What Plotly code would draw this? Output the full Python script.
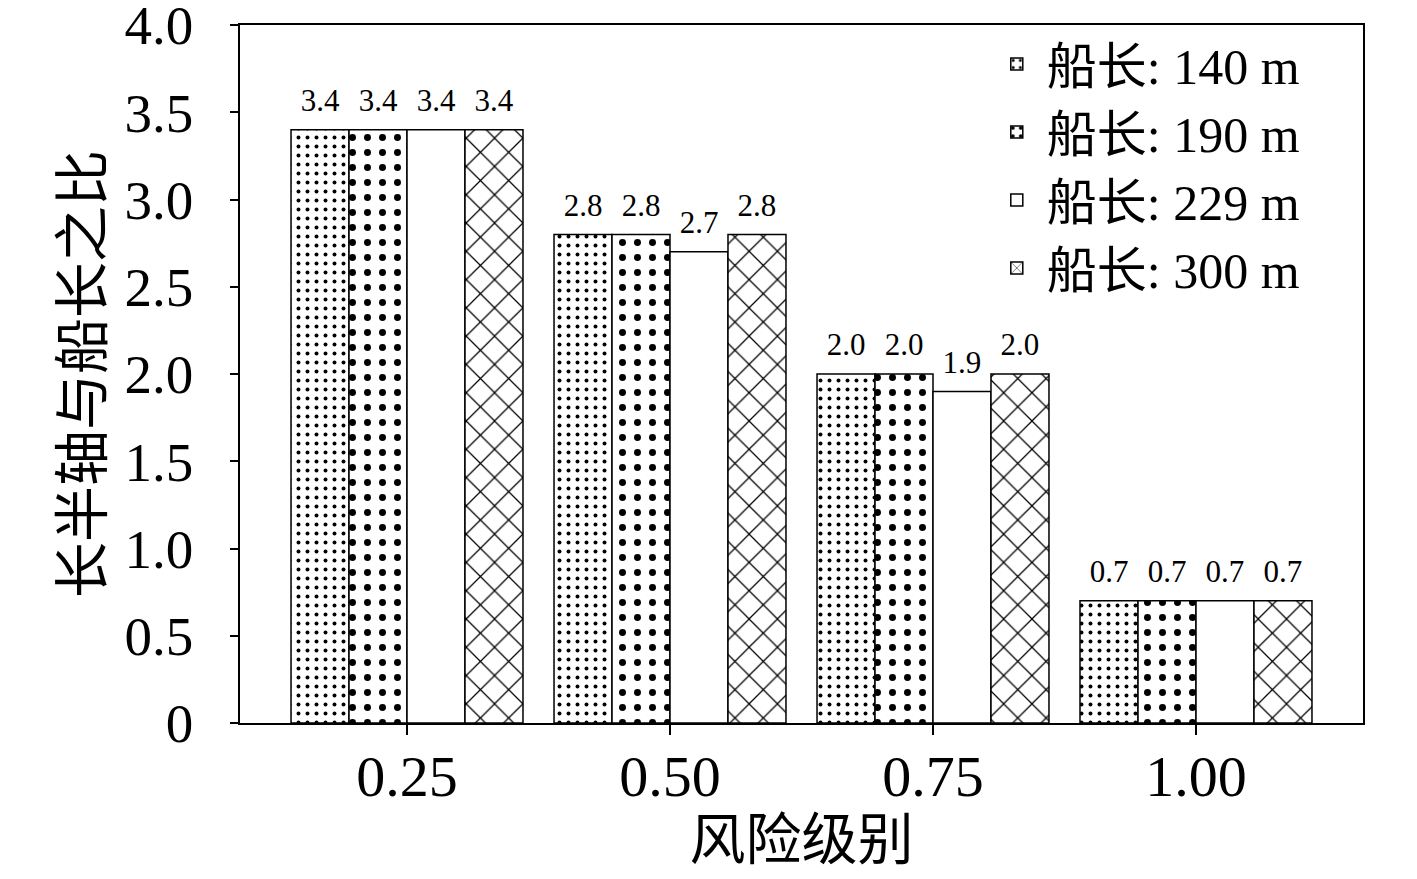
import plotly.graph_objects as go

# 风险级别 (x categories)
risk_levels = ["0.25", "0.50", "0.75", "1.00"]

# 长半轴与船长之比 for each ship length
ratio_140 = [3.4, 2.8, 2.0, 0.7]
ratio_190 = [3.4, 2.8, 2.0, 0.7]
ratio_229 = [3.4, 2.7, 1.9, 0.7]
ratio_300 = [3.4, 2.8, 2.0, 0.7]

series_names = ["船长: 140 m", "船长: 190 m", "船长: 229 m", "船长: 300 m"]

y_ticks = [0, 0.5, 1.0, 1.5, 2.0, 2.5, 3.0, 3.5, 4.0]
y_tick_text = ["0", "0.5", "1.0", "1.5", "2.0", "2.5", "3.0", "3.5", "4.0"]

FONT = "Liberation Serif, Noto Sans CJK SC"

# pattern per series: shape, size, solidity
patterns = [
    dict(shape=".", size=9, solidity=0.15),
    dict(shape=".", size=15, solidity=0.17),
    dict(shape="", size=8, solidity=0.2),
    dict(shape="x", size=20, solidity=0.12),
]

all_vals = [ratio_140, ratio_190, ratio_229, ratio_300]

fig = go.Figure()
for name, vals, pat in zip(series_names, all_vals, patterns):
    fig.add_trace(go.Bar(
        x=risk_levels,
        y=vals,
        name=name,
        marker=dict(
            color="white",
            line=dict(color="black", width=1.5),
            pattern=dict(shape=pat["shape"], size=pat["size"], solidity=pat["solidity"],
                         fgcolor="black", bgcolor="white", fgopacity=1,
                         fillmode="overlay"),
        ),
    ))

# value labels, grouped like the bars, lifted a little off the bar tops
for name, vals in zip(series_names, all_vals):
    fig.add_trace(go.Scatter(
        x=risk_levels,
        y=vals,
        mode="markers+text",
        text=[f"{v:.1f}" for v in vals],
        textposition="top center",
        textfont=dict(family=FONT, size=31, color="black"),
        marker=dict(size=16, opacity=0),
        showlegend=False,
        hoverinfo="skip",
        cliponaxis=False,
    ))

# page body keeps an 8px margin, so the figure is sized to fit inside the window
fig.update_layout(
    width=1401,
    height=863,
    margin=dict(l=232, r=46, t=17, b=148),
    paper_bgcolor="white",
    plot_bgcolor="white",
    barmode="group",
    bargap=0.118,
    bargroupgap=0,
    scattermode="group",
    scattergap=0.118,
    font=dict(family=FONT, size=50, color="black"),
    showlegend=True,
    legend=dict(
        x=0.665, y=1.0, xanchor="left", yanchor="top",
        font=dict(family=FONT, size=50),
        bgcolor="rgba(0,0,0,0)",
        itemwidth=50,
        tracegroupgap=0,
    ),
)

fig.update_xaxes(
    title=dict(text="风险级别", font=dict(family=FONT, size=56), standoff=40),
    showline=True, linecolor="black", linewidth=1.5, mirror=True,
    ticks="outside", ticklen=10, tickcolor="black", tickwidth=1.5,
    tickfont=dict(family=FONT, size=58),
    ticklabelstandoff=-8,
    showgrid=False,
    range=[-0.635, 3.635],
    automargin=False,
)

fig.update_yaxes(
    title=dict(text="长半轴与船长之比", font=dict(family=FONT, size=56), standoff=4),
    range=[0, 4.0],
    tickvals=y_ticks, ticktext=y_tick_text,
    showline=True, linecolor="black", linewidth=1.5, mirror=True,
    ticks="outside", ticklen=8, tickcolor="black", tickwidth=1.5,
    tickfont=dict(family=FONT, size=55),
    ticklabelstandoff=26,
    ticklabeloverflow="allow",
    showgrid=False, zeroline=False,
    automargin=False,
)

fig.write_html("out.html")
